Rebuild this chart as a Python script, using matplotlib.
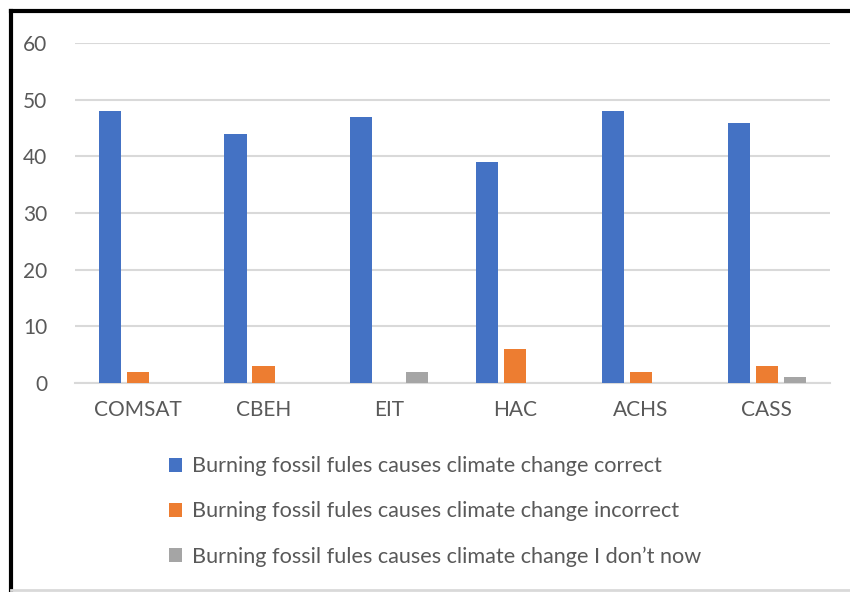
import numpy as np
import matplotlib.pyplot as plt
from matplotlib.lines import Line2D

schools = ["COMSAT", "CBEH", "EIT", "HAC", "ACHS", "CASS"]
correct = [48, 44, 47, 39, 48, 46]
incorrect = [2, 3, 0, 6, 2, 3]
dont_know = [0, 0, 2, 0, 0, 1]
series_names = [
    "Burning fossil fules causes climate change correct",
    "Burning fossil fules causes climate change incorrect",
    "Burning fossil fules causes climate change I don\u2019t now",
]
colors = ["#4472c4", "#ed7d31", "#a5a5a5"]

plt.rcParams['font.family'] = ['Lato', 'DejaVu Sans']
text_col = "#595959"

fig = plt.figure(figsize=(8.5, 5.92), dpi=100)
ax = fig.add_axes([0.088, 0.353, 0.888, 0.574])

x = np.arange(len(schools))
w = 0.175
step = 0.2226
handles = []
for i, vals in enumerate([correct, incorrect, dont_know]):
    b = ax.bar(x + (i - 1) * step, vals, width=w, color=colors[i], zorder=3)
    handles.append(b)

ax.set_xlim(-0.5, 5.5)
ax.set_ylim(0, 60)
ax.set_yticks(range(0, 61, 10))
ax.set_xticks(x)
ax.set_xticklabels(schools)
ax.grid(axis='y', color="#d9d9d9", linewidth=1.5, zorder=0)
for s in ["top", "right", "left"]:
    ax.spines[s].set_visible(False)
ax.spines["bottom"].set_color("#d9d9d9")
ax.spines["bottom"].set_linewidth(1.5)
ax.tick_params(length=0, labelsize=15, colors=text_col)
ax.tick_params(axis='x', pad=12)
ax.tick_params(axis='y', pad=20)

fig.legend(handles, series_names, loc="upper left", bbox_to_anchor=(0.176, 0.262),
           frameon=False, fontsize=15.6, labelcolor=text_col, handlelength=0.6,
           handleheight=0.6, handletextpad=0.45, labelspacing=1.15)

# frame around the chart
fig.add_artist(Line2D([0.013, 0.013], [0.0, 0.982], color="black", lw=3))
fig.add_artist(Line2D([0.013, 1.0], [0.982, 0.982], color="black", lw=3))
fig.add_artist(Line2D([0.013, 1.0], [0.003, 0.003], color="#d9d9d9", lw=2))

fig.savefig("out.png", dpi=100)
